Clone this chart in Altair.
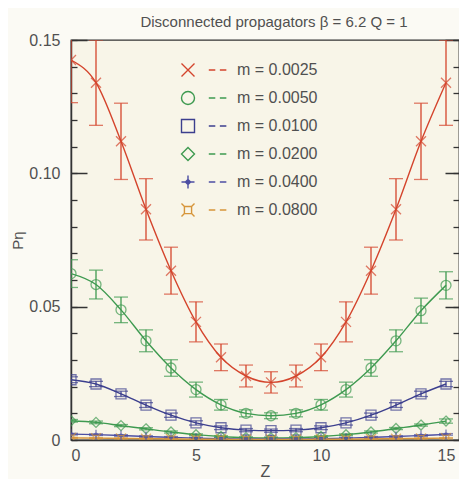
import altair as alt
import pandas as pd

# ---------------- data ----------------
z = list(range(16))
m_labels = ["m = 0.0025", "m = 0.0050", "m = 0.0100", "m = 0.0200", "m = 0.0400", "m = 0.0800"]
colors = ["#d4442c", "#3e9a50", "#3c3f8e", "#3e9a50", "#4c4ea2", "#d6953a"]

p_0025 = [0.1425, 0.134, 0.112, 0.0865, 0.0635, 0.0443, 0.031, 0.024, 0.0216, 0.024, 0.031, 0.0443, 0.0635, 0.0865, 0.112, 0.134]
e_0025 = [0.016, 0.016, 0.0143, 0.0115, 0.0088, 0.0075, 0.005, 0.0041, 0.004, 0.0041, 0.005, 0.0075, 0.0088, 0.0115, 0.0143, 0.016]

p_0050 = [0.0624, 0.0583, 0.0488, 0.0372, 0.027, 0.0189, 0.0132, 0.0100, 0.0091, 0.0100, 0.0132, 0.0189, 0.027, 0.0372, 0.0485, 0.058]
e_0050 = [0.0052, 0.0054, 0.0048, 0.0041, 0.0031, 0.0028, 0.002, 0.0013, 0.0011, 0.0013, 0.002, 0.0028, 0.0031, 0.0041, 0.0047, 0.0051]

p_0100 = [0.0226, 0.0210, 0.0173, 0.0131, 0.0093, 0.0064, 0.0046, 0.0037, 0.0035, 0.0037, 0.0046, 0.0064, 0.0093, 0.0131, 0.0173, 0.0210]
e_0100 = [0.0011, 0.001, 0.001, 0.0009, 0.0008, 0.0008, 0.0007, 0.0006, 0.0006, 0.0006, 0.0007, 0.0008, 0.0008, 0.0009, 0.001, 0.001]

p_0200 = [0.0072, 0.0066, 0.0054, 0.0042, 0.0030, 0.0020, 0.0013, 0.0009, 0.0008, 0.0009, 0.0013, 0.0020, 0.0030, 0.0043, 0.0056, 0.0071]
e_0200 = [0.0005, 0.0005, 0.0004, 0.0004, 0.0004, 0.0003, 0.0003, 0.0003, 0.0003, 0.0003, 0.0003, 0.0003, 0.0004, 0.0004, 0.0004, 0.0008]

p_0400 = [0.0022, 0.0020, 0.0017, 0.0013, 0.0010, 0.0007, 0.0005, 0.0004, 0.0004, 0.0004, 0.0005, 0.0007, 0.0010, 0.0013, 0.0017, 0.0021]
e_0400 = [0.0003] * 16

p_0800 = [0.0008, 0.0007, 0.0006, 0.0005, 0.0004, 0.0003, 0.0003, 0.0002, 0.0002, 0.0002, 0.0003, 0.0003, 0.0004, 0.0005, 0.0006, 0.0007]
e_0800 = [0.0002] * 16

y_major = [0.05, 0.10, 0.15]
y_minor = [i / 100 for i in range(16)]
y_labels = [0, 0.05, 0.10, 0.15]
x_labels = [0, 5, 10, 15]

series = [p_0025, p_0050, p_0100, p_0200, p_0400, p_0800]
errors = [e_0025, e_0050, e_0100, e_0200, e_0400, e_0800]

rows = []
for lab, vals, errs in zip(m_labels, series, errors):
    for zi, v, e in zip(z, vals, errs):
        rows.append({"z": zi, "val": v, "lo": v - e, "hi": v + e, "m": lab, "mshape": lab})
df = pd.DataFrame(rows)

# ---------------- styling ----------------
FONT = "Liberation Sans"
TXT = "#505050"
AX = "#333333"
W, H = 388, 400
XMAX = 15.52

X_PATH = "M-1,-1L1,1M-1,1L1,-1"
CIRCLE = "M1,0A1,1,0,1,1,-1,0A1,1,0,1,1,1,0Z"
SQUARE = "M-1,-1H1V1H-1Z"
DIAMOND = "M0,-1L1,0L0,1L-1,0Z"
PLUS = "M0,-1V1M-1,0H1M0,-0.4L0.4,0L0,0.4L-0.4,0Z"
ORNG = "M-0.55,-0.55H0.55V0.55H-0.55ZM-0.55,-0.55L-1,-1M0.55,-0.55L1,-1M0.55,0.55L1,1M-0.55,0.55L-1,1"
DASHES = "M3.2,0H4.2M4.9,0H5.9"
plot_shapes = [X_PATH, CIRCLE, SQUARE, DIAMOND, PLUS, ORNG]
legend_shapes = [s + DASHES for s in plot_shapes]

xscale = alt.Scale(domain=[0, XMAX], nice=False, zero=False)
yscale = alt.Scale(domain=[0, 0.15], nice=False, zero=False)

x_enc = alt.X(
    "z:Q", scale=xscale,
    axis=alt.Axis(values=x_labels, ticks=False, grid=False, domain=True,
                  domainColor=AX, domainWidth=1.3, title="Z",
                  labelFontSize=16, labelColor=TXT, labelFont=FONT, labelPadding=7,
                  titleFontSize=16, titleColor=TXT, titleFont=FONT,
                  titleFontWeight="normal", titlePadding=0),
)


def cscale():
    return alt.Scale(domain=m_labels, range=colors)


base = alt.Chart(df)

lines = base.mark_line(interpolate="monotone", strokeWidth=1.4, clip=True).encode(
    x=x_enc,
    y=alt.Y("val:Q", scale=yscale, axis=None),
    color=alt.Color("m:N", scale=cscale(), legend=None),
    detail="m:N",
)

rules = base.mark_rule(strokeWidth=1.3, clip=True).encode(
    x=x_enc,
    y=alt.Y("lo:Q", scale=yscale, axis=None),
    y2="hi:Q",
    color=alt.Color("m:N", scale=cscale(), legend=None),
)

cap_lo = base.mark_tick(orient="horizontal", size=14, thickness=1.3, clip=True).encode(
    x=x_enc,
    y=alt.Y("lo:Q", scale=yscale, axis=None),
    color=alt.Color("m:N", scale=cscale(), legend=None),
)
cap_hi = base.mark_tick(orient="horizontal", size=14, thickness=1.3, clip=True).encode(
    x=x_enc,
    y=alt.Y("hi:Q", scale=yscale, axis=None),
    color=alt.Color("m:N", scale=cscale(), legend=None),
)

points = base.mark_point(filled=False, size=100, strokeWidth=1.3, clip=True).encode(
    x=x_enc,
    y=alt.Y("val:Q", scale=yscale, axis=None),
    color=alt.Color("m:N", scale=cscale(), legend=None),
    shape=alt.Shape("mshape:N", scale=alt.Scale(domain=m_labels, range=plot_shapes), legend=None),
)

legend_layer = base.mark_point(filled=False, opacity=0, size=169, strokeWidth=1.4).encode(
    x=x_enc,
    y=alt.Y("val:Q", scale=yscale, axis=None),
    color=alt.Color("m:N", scale=cscale(), legend=alt.Legend(
        title=None, orient="none", legendX=109, legendY=22,
        labelFontSize=16, labelColor=TXT, labelFont=FONT, labelOffset=41,
        rowPadding=8, symbolOpacity=1, symbolStrokeWidth=1.4, symbolSize=169,
        padding=0, symbolFillColor="transparent")),
    shape=alt.Shape("m:N", scale=alt.Scale(domain=m_labels, range=legend_shapes)),
)


def axis_layer(axis):
    return base.mark_point(opacity=0).encode(
        x=x_enc,
        y=alt.Y("val:Q", scale=yscale, axis=axis),
    )


ax_main = axis_layer(alt.Axis(
    orient="left", values=y_labels, ticks=False, grid=False, domain=True,
    domainColor=AX, domainWidth=1.5,
    labelExpr="datum.value == 0 ? '0' : format(datum.value, '.2f')",
    labelFontSize=16, labelColor=TXT, labelFont=FONT, labelPadding=11,
    title="Pη", titleFontSize=15, titleColor=TXT, titleFont=FONT,
    titleFontWeight="normal", titlePadding=3))
ax_lminor = axis_layer(alt.Axis(orient="right", offset=-W, values=y_minor, tickSize=6,
                                tickColor=AX, tickWidth=1.3, labels=False, domain=False,
                                grid=False, title=None))
ax_lmajor = axis_layer(alt.Axis(orient="right", offset=-W, values=y_major, tickSize=16,
                                tickColor=AX, tickWidth=1.5, labels=False, domain=False,
                                grid=False, title=None))
ax_rminor = axis_layer(alt.Axis(orient="left", offset=-W, values=y_minor, tickSize=6,
                                tickColor=AX, tickWidth=1.3, labels=False, domain=False,
                                grid=False, title=None))
ax_rmajor = axis_layer(alt.Axis(orient="left", offset=-W, values=y_major, tickSize=14,
                                tickColor=AX, tickWidth=1.5, labels=False, domain=False,
                                grid=False, title=None))

chart = alt.layer(
    lines, rules, cap_lo, cap_hi, points, legend_layer,
    ax_main, ax_lminor, ax_lmajor, ax_rminor, ax_rmajor,
).resolve_scale(
    color="independent", shape="independent"
).resolve_axis(
    y="independent"
).properties(
    width=W, height=H,
    title=alt.TitleParams("Disconnected propagators β = 6.2 Q = 1", fontSize=15,
                          font=FONT, color=TXT, fontWeight="normal", offset=2, dx=9),
    autosize=alt.AutoSizeParams(type="none"),
    padding={"left": 63, "top": 32, "right": 0, "bottom": 39},
    background="#fbfaf4",
).configure_view(
    stroke=AX, strokeWidth=1.3, fill="#f8f5e8"
)

chart.save("out.html", embed_options={"renderer": "svg", "actions": False})
